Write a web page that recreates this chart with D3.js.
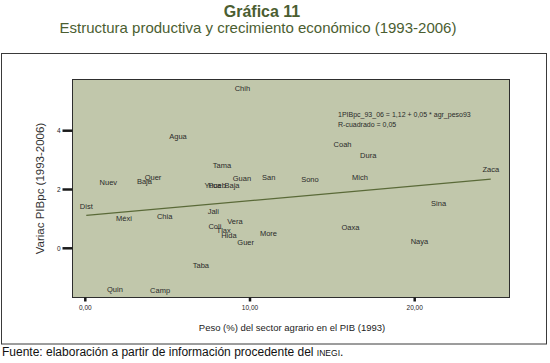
<!DOCTYPE html>
<html>
<head>
<meta charset="utf-8">
<script src="https://cdn.jsdelivr.net/npm/d3@7"></script>
<style>
  body { margin: 0; background: #fff; }
  svg { display: block; font-family: "Liberation Sans", Arial, sans-serif; }
</style>
</head>
<body>
<svg id="chart" width="550" height="363"></svg>
<script>
// estados (etiquetas de caso) y valores
const states = ["Agua", "Baja", "Baja", "Camp", "Coah", "Coli", "Chia", "Chih", "Dist", "Dura",
  "Guan", "Guer", "Hida", "Jali", "Méxi", "Mich", "More", "Naya", "Nuev", "Oaxa",
  "Pueb", "Quer", "Quin", "San", "Sina", "Sono", "Taba", "Tama", "Tlax", "Vera", "Yuca", "Zaca"];
const agr_peso93 = [5.63, 3.59, 8.91, 4.54, 15.62, 7.87, 4.82, 9.54, 0.06, 17.18,
  9.51, 9.74, 8.72, 7.77, 2.35, 16.68, 11.12, 20.29, 1.40, 16.10,
  8.0, 4.11, 1.80, 11.14, 21.45, 13.64, 7.02, 8.30, 8.40, 9.09, 7.75, 24.62];
const var_pibpc = [3.80, 2.27, 2.14, -1.44, 3.55, 0.73, 1.10, 5.44, 1.41, 3.17,
  2.38, 0.19, 0.45, 1.24, 1.02, 2.41, 0.52, 0.24, 2.23, 0.71,
  2.14, 2.41, -1.39, 2.41, 1.53, 2.36, -0.58, 2.83, 0.60, 0.93, 2.14, 2.69];

const x_ticks = [0, 10, 20];
const y_ticks = [0, 2, 4];
const intercept = 1.12;
const slope = 0.05;
const r_squared = 0.05;

const title = "Gráfica 11";
const subtitle = "Estructura productiva y crecimiento económico (1993-2006)";
const x_title = "Peso (%) del sector agrario en el PIB (1993)";
const y_title = "Variac PIBpc (1993-2006)";

let svg = d3.select("#chart");
let plot_left = 72.5, plot_right = 509.5, plot_top = 79.5, plot_bottom = 297.5;
let green = "#4b5e31";
let fmt = v => d3.format(".2f")(v).replace(".", ",");

var x = d3.scaleLinear().domain([0, 20]).range([85.3, 414.7]);
var y = d3.scaleLinear().domain([0, 4]).range([248.3, 130.7]);

// titulos
svg.append("text").attr("x", 262).attr("y", 17).attr("text-anchor", "middle")
  .attr("font-size", 16).attr("font-weight", "bold").attr("fill", green).text(title);
svg.append("text").attr("x", 258).attr("y", 33).attr("text-anchor", "middle")
  .attr("font-size", 15).attr("fill", green).text(subtitle);

// marco exterior
svg.append("rect").attr("x", 1.5).attr("y", 53.5).attr("width", 545).attr("height", 290.5)
  .attr("fill", "none").attr("stroke", "#3a3a3a").attr("stroke-width", 1);

// area del grafico
svg.append("rect").attr("x", plot_left).attr("y", plot_top)
  .attr("width", plot_right - plot_left).attr("height", plot_bottom - plot_top)
  .attr("fill", "#c1c7ab").attr("stroke", "#2e2e2e").attr("stroke-width", 1);

// ejes
y_ticks.forEach(t => {
  svg.append("line").attr("x1", plot_left - 10).attr("x2", plot_left)
    .attr("y1", y(t)).attr("y2", y(t)).attr("stroke", "#1a1a1a").attr("stroke-width", 2.5);
  svg.append("text").attr("x", plot_left - 12).attr("y", y(t)).attr("dy", "0.35em")
    .attr("text-anchor", "end").attr("font-size", 6.5).attr("fill", "#222").text(t);
});
x_ticks.forEach(t => {
  svg.append("line").attr("x1", x(t)).attr("x2", x(t))
    .attr("y1", plot_bottom).attr("y2", plot_bottom + 4).attr("stroke", "#1a1a1a").attr("stroke-width", 2.5);
  svg.append("text").attr("x", x(t)).attr("y", 309.5).attr("text-anchor", "middle")
    .attr("font-size", 6.5).attr("fill", "#222").text(fmt(t));
});

svg.append("text").attr("transform", "translate(44," + ((plot_top + plot_bottom) / 2) + ") rotate(-90)")
  .attr("text-anchor", "middle").attr("font-size", 11.5).attr("fill", "#333").text(y_title);
svg.append("text").attr("x", (plot_left + plot_right) / 2 + 1).attr("y", 331).attr("text-anchor", "middle")
  .attr("font-size", 9.5).attr("fill", "#222").text(x_title);

// recta de regresion
let x_ext = d3.extent(agr_peso93);
svg.append("line")
  .attr("x1", x(x_ext[0])).attr("y1", y(intercept + slope * x_ext[0]))
  .attr("x2", x(x_ext[1])).attr("y2", y(intercept + slope * x_ext[1]))
  .attr("stroke", "#5a6a38").attr("stroke-width", 1.2);

// etiquetas de caso
svg.selectAll(".lbl").data(states).enter().append("text")
  .attr("class", "lbl")
  .attr("x", (d, i) => x(agr_peso93[i]))
  .attr("y", (d, i) => y(var_pibpc[i]))
  .attr("dy", "0.35em")
  .attr("text-anchor", "middle")
  .attr("font-size", 7.5).attr("fill", "#2a2a2a")
  .text(d => d);

// ecuacion
svg.append("text").attr("x", 338).attr("y", 116.5).attr("font-size", 7).attr("fill", "#2a2a2a")
  .text("1PIBpc_93_06 = " + d3.format(".2f")(intercept).replace(".", ",") + " + "
    + d3.format(".2f")(slope).replace(".", ",") + " * agr_peso93");
svg.append("text").attr("x", 338).attr("y", 126.5).attr("font-size", 7).attr("fill", "#2a2a2a")
  .text("R-cuadrado = " + d3.format(".2f")(r_squared).replace(".", ","));

// fuente
let src = svg.append("text").attr("x", 2).attr("y", 356).attr("font-size", 12).attr("fill", "#111");
src.append("tspan").text("Fuente: elaboración a partir de información procedente del ");
src.append("tspan").attr("font-size", 8.5).text("INEGI");
src.append("tspan").text(".");
</script>
</body>
</html>
